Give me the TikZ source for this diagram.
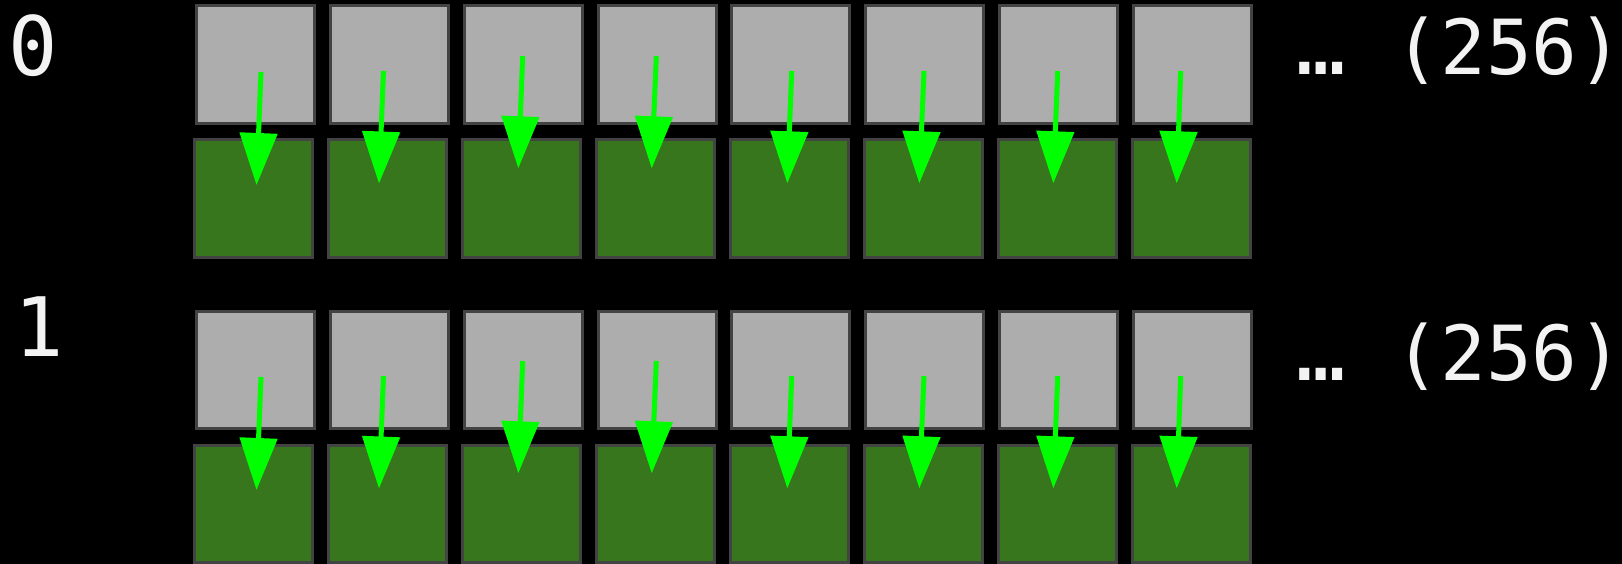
\documentclass[tikz,border=0pt]{standalone}
\usepackage{fontspec}
\setmonofont{DejaVu Sans Mono}
\usetikzlibrary{arrows.meta}

\definecolor{cellgray}{HTML}{ADADAD}
\definecolor{cellgreen}{HTML}{38761D}
\definecolor{celledge}{HTML}{434343}
\definecolor{copygreen}{HTML}{00FF00}
\definecolor{labelwhite}{HTML}{F3F3F3}

\tikzset{
    cell/.style={draw=celledge, line width=3pt, minimum width=118pt, minimum height=117.5pt, inner sep=0pt, anchor=north west},
    srccell/.style={cell, fill=cellgray},
    dstcell/.style={cell, fill=cellgreen},
    copyarrow/.style={copygreen, line width=5pt, -{Triangle[length=52pt, width=37pt]}},
    rowlabel/.style={text=labelwhite, inner sep=0pt, font=\ttfamily\fontsize{82}{82}\selectfont},
    countlabel/.style={rowlabel, font=\ttfamily\fontsize{76}{76}\selectfont}
}

\begin{document}
\begin{tikzpicture}[x=1pt, y=-1pt]
    % black page
    \fill[black] (0, 0) rectangle (1622, 564);
    \useasboundingbox (0, 0) rectangle (1622, 564);

    % two rows, each: grey source cells on top, green target cells below
    \foreach \r/\dy in {0/0, 1/305} {
        \foreach \c/\ax/\ay/\bx/\by in {1/261/72/256.5/185, 2/383.5/71/379/183.5, 3/522.7/56/518.3/168.3, 4/656.3/56/651.7/168.3,
                                        5/791.7/71/787.3/183.3, 6/924/71/919.3/183.3, 7/1057.7/71/1053.3/183.3, 8/1180.7/71/1176.7/183.3} {
            \node[srccell] (s\r-\c) at ({194.8 + 133.9*(\c-1)}, {4.5 + \dy}) {};
            \node[dstcell] (d\r-\c) at ({193.3 + 133.9*(\c-1)}, {138.5 + \dy}) {};
            \coordinate (a\r-\c) at (\ax, {\ay + \dy});
            \coordinate (b\r-\c) at (\bx, {\by + \dy});
            \draw[copyarrow] (a\r-\c) -- (b\r-\c);
        }
        \node[rowlabel, anchor=base] (dots\r) at (1321, {75 + \dy}) {…};
        \node[countlabel, anchor=base] (count\r) at (1509, {75 + \dy}) {(256)};
    }

    % row numbers
    \node[rowlabel, anchor=base] (n0) at (33, 76) {0};
    \node[rowlabel, anchor=base] (n1) at (39, 356) {1};
\end{tikzpicture}
\end{document}
